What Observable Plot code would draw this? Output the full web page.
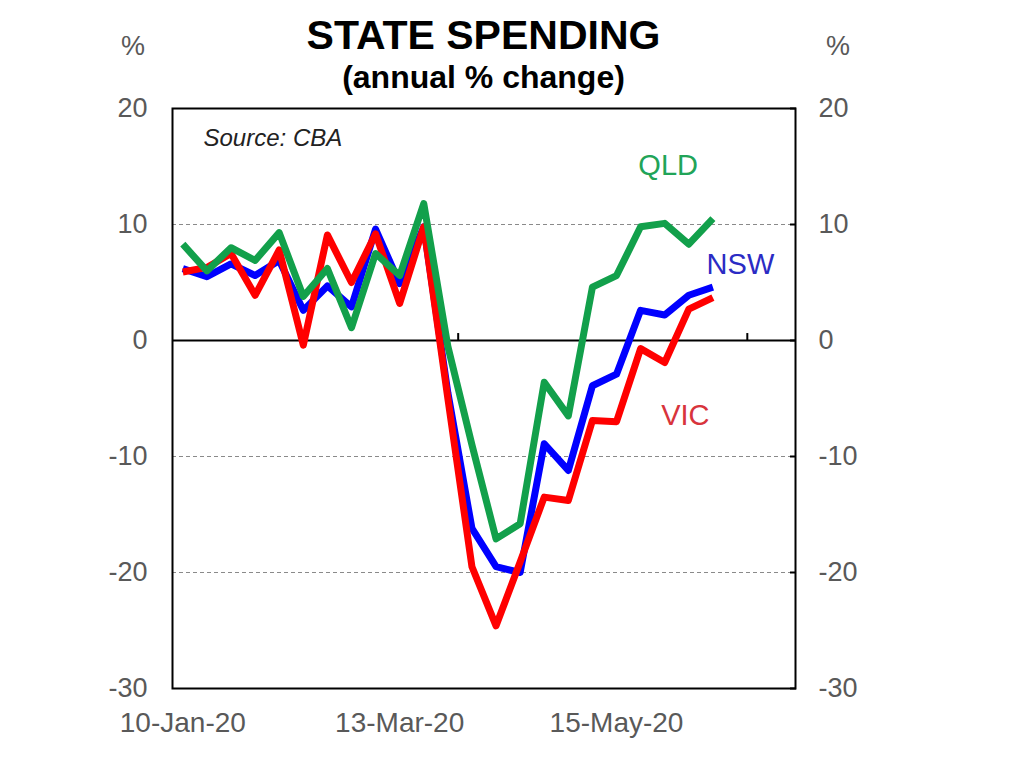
<!DOCTYPE html>
<html>
<head>
<meta charset="utf-8">
<script src="https://cdn.jsdelivr.net/npm/d3@7"></script>
<script src="https://cdn.jsdelivr.net/npm/@observablehq/plot@0.6"></script>
<style>
  html, body { margin: 0; padding: 0; background: #fff; }
  #wrap { position: relative; width: 1023px; height: 768px; font-family: "Liberation Sans", Arial, sans-serif; }
  #header { position: relative; height: 90px; }
  .title { position: absolute; left: 172px; width: 623px; text-align: center; font-weight: bold; color: #000; }
  #t1 { top: 12px; font-size: 41px; }
  #t2 { top: 59px; font-size: 32px; }
  .pct { position: absolute; top: 31px; font-size: 27px; color: #595959; width: 40px; text-align: center; }
  #pl { left: 113px; }
  #pr { left: 818px; }
</style>
</head>
<body>
<div id="wrap">
  <div id="header">
    <div class="title" id="t1">STATE SPENDING</div>
    <div class="title" id="t2">(annual % change)</div>
    <div class="pct" id="pl">%</div>
    <div class="pct" id="pr">%</div>
  </div>
  <div id="chart"></div>
</div>
<script>
// Weekly observations (Fridays)
const weeks = ["2020-01-10","2020-01-17","2020-01-24","2020-01-31","2020-02-07","2020-02-14","2020-02-21","2020-02-28",
  "2020-03-06","2020-03-13","2020-03-20","2020-03-27","2020-04-03","2020-04-10","2020-04-17","2020-04-24",
  "2020-05-01","2020-05-08","2020-05-15","2020-05-22","2020-05-29","2020-06-05","2020-06-12"];
const nsw = [6.2, 5.5, 6.6, 5.6, 6.9, 2.6, 4.7, 2.9, 9.6, 4.9, 9.8, -4.5, -16.2, -19.5, -20.0, -8.9, -11.2, -3.9, -2.9, 2.6, 2.2, 3.9, 4.6];
const vic = [5.9, 6.3, 7.5, 3.9, 7.8, -0.4, 9.1, 5.0, 9.2, 3.2, 9.8, -5.0, -19.5, -24.6, -19.1, -13.5, -13.8, -6.9, -7.0, -0.7, -1.9, 2.7, 3.7];
const qld = [8.3, 6.0, 8.0, 6.9, 9.3, 3.8, 6.2, 1.1, 7.5, 5.6, 11.8, -0.5, -9.0, -17.1, -15.8, -3.6, -6.5, 4.6, 5.6, 9.8, 10.1, 8.3, 10.5];

const seriesNames = ["NSW", "VIC", "QLD"];
const seriesColors = ["#0000ff", "#ff0000", "#12a04b"];
const labelColors = ["#2b2bc4", "#d8343c", "#21a458"];
// label anchor points (date, value)
const labelDates = ["2020-06-20", "2020-06-04", "2020-05-30"];
const labelValues = [6.5, -6.5, 15.1];

const xTickLabels = ["2020-01-10", "2020-03-13", "2020-05-15"];
const xDomain = ["2020-01-07", "2020-07-06"];
const zeroTicks = ["2020-03-30", "2020-06-22"];
const yTicks = [20, 10, 0, -10, -20, -30];
const gridValues = [10, -10, -20];

const parse = d3.utcParse("%Y-%m-%d");
const fmt = d3.utcFormat("%-d-%b-%y");
const allSeries = [nsw, vic, qld];
const table = seriesNames.map((name, i) => weeks.map((w, j) => ({state: name, date: parse(w), value: allSeries[i][j]})));
const labels = seriesNames.map((name, i) => ({state: name, date: parse(labelDates[i]), value: labelValues[i], color: labelColors[i]}));

const gray = "#595959";
const chart = Plot.plot({
  width: 1023,
  height: 678,
  marginLeft: 172,
  marginRight: 228,
  marginTop: 18,
  marginBottom: 80,
  style: {fontFamily: "'Liberation Sans', Arial, sans-serif", fontSize: "27px", background: "white", overflow: "visible"},
  x: {type: "utc", domain: xDomain.map(parse)},
  y: {domain: [-30, 20]},
  marks: [
    Plot.ruleY(gridValues, {stroke: "#8a8a8a", strokeWidth: 1.2, strokeDasharray: "4,3"}),
    Plot.axisY({anchor: "left", ticks: yTicks, tickSize: 0, tickPadding: 25, tickFormat: d => String(d), fill: gray, fontSize: 27, label: null}),
    Plot.axisY({anchor: "right", ticks: yTicks, tickSize: -6, tickPadding: 29, tickFormat: d => String(d), fill: gray, stroke: "black", strokeWidth: 2, fontSize: 27, label: null}),
    Plot.axisX({ticks: xTickLabels.map(parse), tickSize: 0, tickPadding: 24, tickFormat: fmt, fill: gray, fontSize: 28, label: null}),
    Plot.ruleY([0], {stroke: "black", strokeWidth: 2}),
    Plot.ruleX(zeroTicks.map(parse), {y1: 0, y2: 0.6, stroke: "black", strokeWidth: 2}),
    ...table.map((rows, i) => Plot.line(rows, {x: "date", y: "value", stroke: seriesColors[i], strokeWidth: 7, strokeLinejoin: "round", strokeLinecap: "butt"})),
    Plot.frame({stroke: "black", strokeWidth: 2}),
    Plot.text(labels, {x: "date", y: "value", text: "state", fill: "color", fontSize: 29}),
    Plot.text(["Source: CBA"], {frameAnchor: "top-left", dx: 31, dy: 20, textAnchor: "start", fontStyle: "italic", fontSize: 24, fill: "#222"})
  ]
});
document.getElementById("chart").appendChild(chart);
</script>
</body>
</html>
